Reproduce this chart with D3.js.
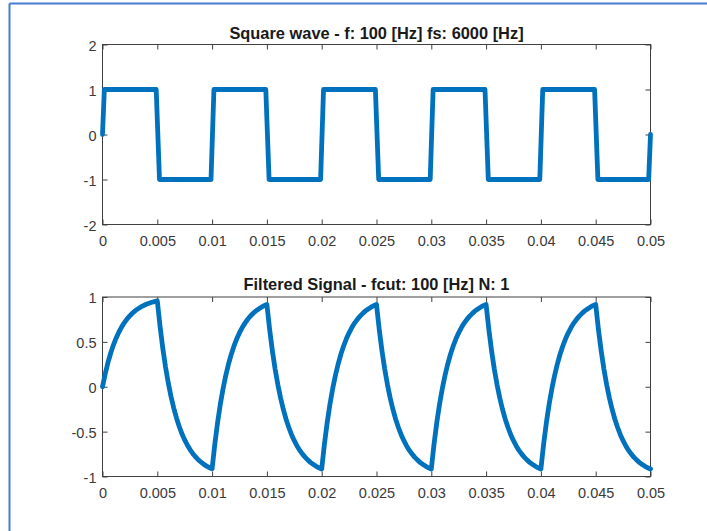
<!DOCTYPE html>
<html>
<head>
<meta charset="utf-8">
<script src="https://cdnjs.cloudflare.com/ajax/libs/d3/7.8.5/d3.min.js"></script>
<style>
  body { margin: 0; background: #fff; }
  svg { display: block; font-family: "Liberation Sans", Arial, sans-serif; }
  .graph-title { font-size: 16.4px; font-weight: bold; fill: #1a1a1a; text-anchor: middle; }
</style>
</head>
<body>
<svg width="707" height="531"></svg>
<script>
// tick values / labels
var xTicks = [0, 0.005, 0.01, 0.015, 0.02, 0.025, 0.03, 0.035, 0.04, 0.045, 0.05];
var xTickLabels = ["0", "0.005", "0.01", "0.015", "0.02", "0.025", "0.03", "0.035", "0.04", "0.045", "0.05"];
var squareYTicks = [-2, -1, 0, 1, 2];
var squareYLabels = ["-2", "-1", "0", "1", "2"];
var filteredYTicks = [-1, -0.5, 0, 0.5, 1];
var filteredYLabels = ["-1", "-0.5", "0", "0.5", "1"];

// square wave corners (time [s], amplitude)
var squareTimes = [0, 0.000167, 0.0049, 0.0052, 0.0099, 0.010167, 0.0149, 0.0152, 0.0199, 0.020167,
  0.0249, 0.0252, 0.0299, 0.030167, 0.0349, 0.0352, 0.0399, 0.040167, 0.0449, 0.0452, 0.049833, 0.05];
var squareValues = [0, 1, 1, -1, -1, 1, 1, -1, -1, 1,
  1, -1, -1, 1, 1, -1, -1, 1, 1, -1, -1, 0];

// filtered signal, read every 0.25 ms
var filteredStep = 0.00025;
var filteredValues = [
  0, 0.145, 0.270, 0.376, 0.467, 0.544, 0.610, 0.667, 0.715, 0.757, 0.792, 0.822, 0.848, 0.870, 0.889, 0.905, 0.919, 0.931, 0.941, 0.949, 0.957,
  0.673, 0.429, 0.222, 0.044, -0.108, -0.237, -0.348, -0.443, -0.524, -0.593, -0.652, -0.703, -0.746, -0.783, -0.815, -0.841, -0.865, -0.884, -0.901, -0.915,
  -0.637, -0.399, -0.195, -0.022, 0.127, 0.254, 0.362, 0.455, 0.534, 0.602, 0.660, 0.709, 0.752, 0.788, 0.819, 0.845, 0.867, 0.887, 0.903, 0.917,
  0.638, 0.400, 0.197, 0.023, -0.126, -0.253, -0.362, -0.454, -0.534, -0.601, -0.659, -0.709, -0.751, -0.787, -0.818, -0.845, -0.867, -0.887, -0.903, -0.917,
  -0.638, -0.400, -0.197, -0.023, 0.126, 0.253, 0.362, 0.454, 0.534, 0.601, 0.659, 0.709, 0.751, 0.787, 0.818, 0.845, 0.867, 0.887, 0.903, 0.917,
  0.638, 0.400, 0.197, 0.023, -0.126, -0.253, -0.362, -0.454, -0.534, -0.601, -0.659, -0.709, -0.751, -0.787, -0.818, -0.845, -0.867, -0.887, -0.903, -0.917,
  -0.638, -0.400, -0.197, -0.023, 0.126, 0.253, 0.362, 0.454, 0.534, 0.601, 0.659, 0.709, 0.751, 0.787, 0.818, 0.845, 0.867, 0.887, 0.903, 0.917,
  0.638, 0.400, 0.197, 0.023, -0.126, -0.253, -0.362, -0.454, -0.534, -0.601, -0.659, -0.709, -0.751, -0.787, -0.818, -0.845, -0.867, -0.887, -0.903, -0.917,
  -0.638, -0.400, -0.197, -0.023, 0.126, 0.253, 0.362, 0.454, 0.534, 0.601, 0.659, 0.709, 0.751, 0.787, 0.818, 0.845, 0.867, 0.887, 0.903, 0.917,
  0.638, 0.400, 0.197, 0.023, -0.126, -0.253, -0.362, -0.454, -0.534, -0.601, -0.659, -0.709, -0.751, -0.787, -0.818, -0.845, -0.867, -0.887, -0.903, -0.917
];

var lineColor = "#0072BD";
var axisColor = "#404040";
var fontFamily = '"Liberation Sans", Arial, sans-serif';

document.addEventListener("DOMContentLoaded", function() {
  var svg = d3.select("svg");

  // blue frame around the screenshot (only top and left edges show)
  svg.append("line").attr("x1", 9.5).attr("y1", 3.5).attr("x2", 707).attr("y2", 3.5)
    .attr("stroke", "#4a7bd1").attr("stroke-width", 2);
  svg.append("line").attr("x1", 9.5).attr("y1", 3.5).attr("x2", 9.5).attr("y2", 531)
    .attr("stroke", "#4a7bd1").attr("stroke-width", 2);

  drawPanel(svg, {
    top: 44.5, bottom: 224.5,
    yDomain: [-2, 2], yTicks: squareYTicks, yLabels: squareYLabels,
    title: "Square wave - f: 100 [Hz] fs: 6000 [Hz]", titleY: 38.5,
    points: squareTimes.map((t, i) => [t, squareValues[i]])
  });

  drawPanel(svg, {
    top: 297, bottom: 476.5,
    yDomain: [-1, 1], yTicks: filteredYTicks, yLabels: filteredYLabels,
    title: "Filtered Signal - fcut: 100 [Hz] N: 1", titleY: 289.5,
    points: filteredValues.map((v, i) => [i * filteredStep, v])
  });
});

function drawPanel(svg, opts) {
  var left = 102.5, right = 650.5;

  var x = d3.scaleLinear().domain([0, 0.05]).range([left, right]);
  var y = d3.scaleLinear().domain(opts.yDomain).range([opts.bottom, opts.top]);

  var g = svg.append("g");

  //axes (ticks point inward, mirrored on top and right)
  var bottomAxis = g.append("g")
    .attr("transform", `translate(0,${opts.bottom})`)
    .call(d3.axisBottom(x).tickValues(xTicks).tickSizeInner(-5).tickSizeOuter(0)
      .tickPadding(11).tickFormat((d, i) => xTickLabels[i]));

  var leftAxis = g.append("g")
    .attr("transform", `translate(${left},0)`)
    .call(d3.axisLeft(y).tickValues(opts.yTicks).tickSizeInner(-5).tickSizeOuter(0)
      .tickPadding(6).tickFormat((d, i) => opts.yLabels[i]));

  var topAxis = g.append("g")
    .attr("transform", `translate(0,${opts.top})`)
    .call(d3.axisTop(x).tickValues(xTicks).tickSizeInner(-5).tickSizeOuter(0).tickFormat(""));

  var rightAxis = g.append("g")
    .attr("transform", `translate(${right},0)`)
    .call(d3.axisRight(y).tickValues(opts.yTicks).tickSizeInner(-5).tickSizeOuter(0).tickFormat(""));

  [bottomAxis, leftAxis, topAxis, rightAxis].forEach(function(a) {
    a.attr("font-family", fontFamily).attr("font-size", 14.5);
    a.select(".domain").remove();
    a.selectAll(".tick line").attr("stroke", axisColor);
    a.selectAll(".tick text").attr("fill", "#3a3a3a");
  });
  leftAxis.selectAll(".tick text").attr("dy", "0.4em");

  //box
  g.append("rect")
    .attr("x", left).attr("y", opts.top)
    .attr("width", right - left).attr("height", opts.bottom - opts.top)
    .attr("fill", "none").attr("stroke", axisColor).attr("stroke-width", 1);

  //data
  var line = d3.line().x((d) => x(d[0])).y((d) => y(d[1]));
  g.append("path")
    .datum(opts.points)
    .attr("d", line)
    .attr("fill", "none")
    .attr("stroke", lineColor)
    .attr("stroke-width", 4.8)
    .attr("stroke-linejoin", "round")
    .attr("stroke-linecap", "round");

  //title
  g.append("text")
    .attr("class", "graph-title")
    .attr("x", (left + right) / 2)
    .attr("y", opts.titleY)
    .text(opts.title);
}
</script>
</body>
</html>
